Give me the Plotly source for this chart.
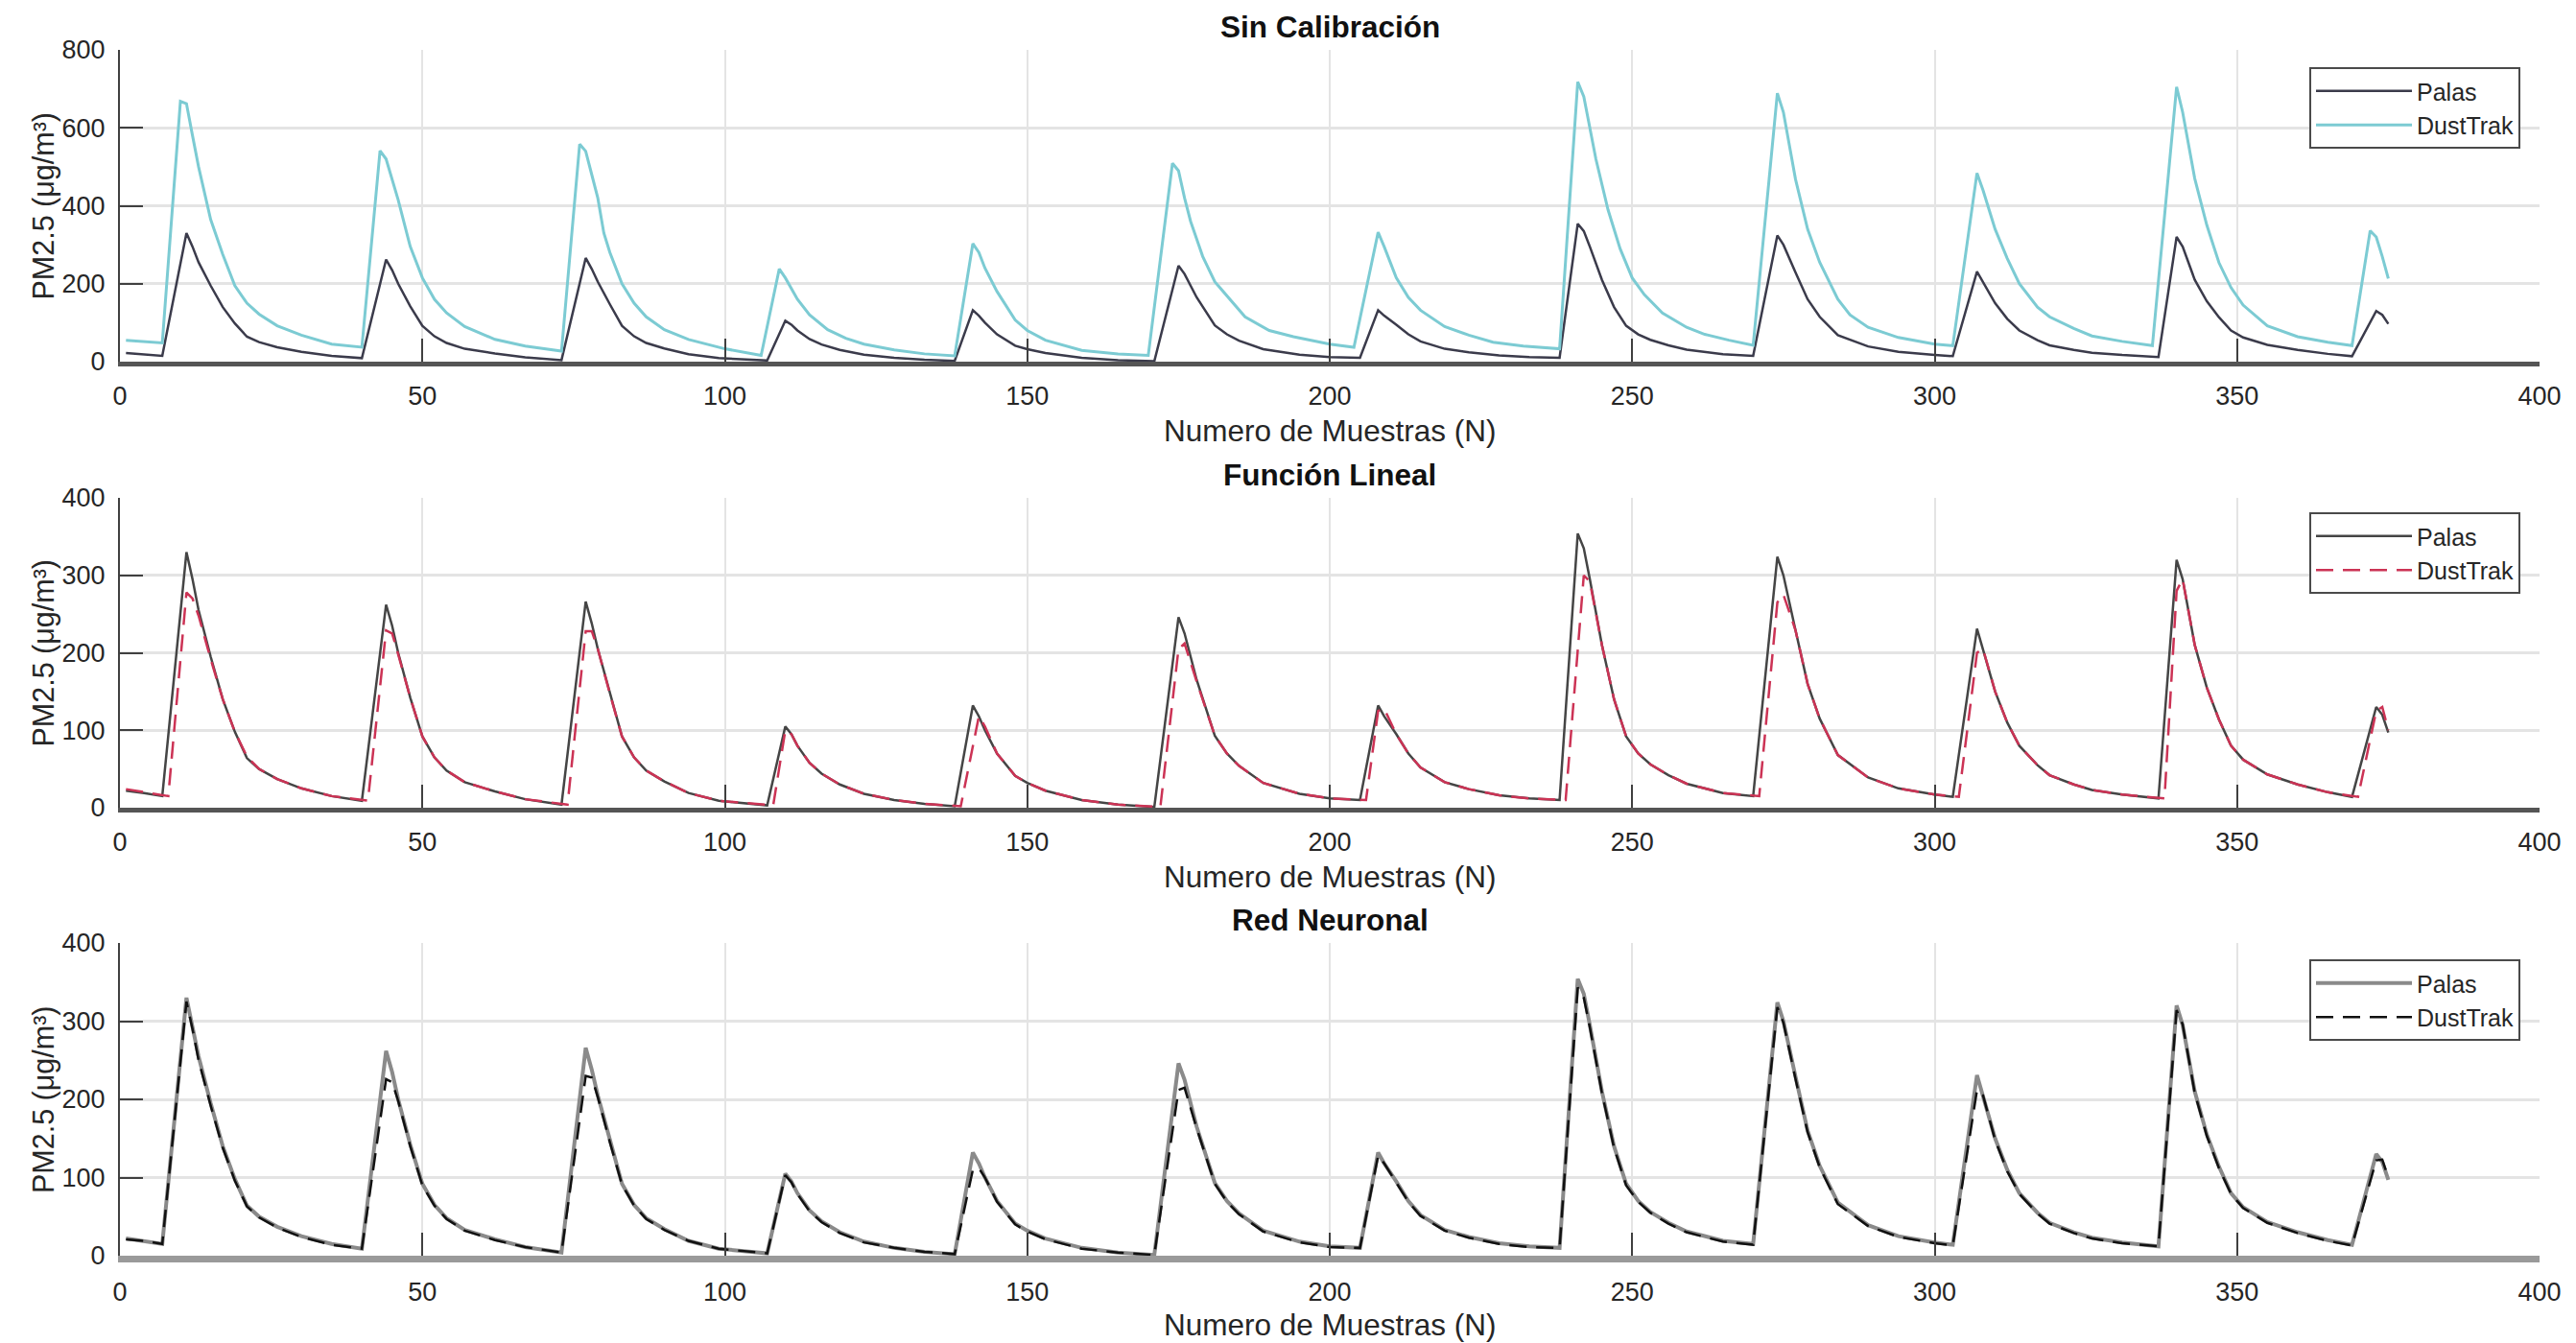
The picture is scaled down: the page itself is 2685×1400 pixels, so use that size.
import plotly.graph_objects as go

# ---------------- data (sample number, PM2.5 in ug/m3) ----------------
sample = [1, 4, 7, 11, 12, 13, 15, 17, 19, 21, 23, 26, 30, 35, 40,
          44, 45, 46, 48, 50, 52, 54, 57, 62, 67, 73,
          77, 78, 79, 81, 83, 85, 87, 90, 94, 99, 107,
          110, 111, 112, 114, 116, 119, 123, 128, 133, 138,
          141, 142, 143, 145, 148, 150, 153, 159, 165, 171,
          175, 176, 178, 181, 183, 185, 189, 195, 200, 205,
          208, 209, 211, 213, 215, 219, 223, 228, 233, 238,
          241, 242, 243, 245, 247, 249, 251, 253, 256, 259, 265, 270,
          274, 275, 277, 279, 281, 284, 289, 294, 300, 303,
          307, 308, 310, 312, 314, 317, 319, 323, 326, 331, 337,
          340, 341, 343, 345, 347, 349, 351, 355, 360, 365, 369,
          373, 374, 375]

palas = [22, 19, 15, 330, 295, 255, 195, 140, 98, 64, 50, 37, 25, 15, 9,
         262, 235, 200, 142, 92, 65, 48, 33, 21, 11, 4,
         266, 238, 205, 147, 92, 65, 48, 34, 19, 9, 3,
         105, 95, 80, 58, 44, 30, 18, 10, 5, 2,
         132, 118, 100, 70, 41, 32, 22, 10, 4, 1,
         246, 225, 165, 93, 70, 54, 32, 18, 12, 10,
         132, 118, 95, 70, 52, 33, 24, 16, 12, 10,
         354, 335, 295, 210, 140, 92, 70, 56, 42, 31, 19, 15,
         324, 300, 229, 160, 115, 68, 39, 25, 17, 14,
         231, 205, 150, 110, 80, 55, 42, 30, 23, 17, 12,
         320, 295, 210, 155, 114, 80, 62, 43, 30, 20, 14,
         130, 120, 97]

dust_nn = [21, 19, 15, 325, 290, 250, 192, 138, 96, 63, 49, 36, 24, 14, 9,
           226, 222, 198, 140, 90, 64, 47, 32, 20, 11, 4,
           230, 228, 203, 145, 91, 64, 47, 33, 19, 9, 3,
           103, 94, 79, 57, 43, 29, 17, 10, 5, 2,
           110, 112, 100, 69, 40, 31, 21, 9, 4, 1,
           212, 215, 163, 92, 69, 53, 31, 17, 11, 10,
           128, 118, 93, 69, 51, 32, 23, 15, 11, 10,
           343, 330, 292, 208, 138, 90, 69, 55, 41, 30, 18, 14,
           318, 298, 226, 158, 113, 66, 38, 24, 16, 13,
           212, 205, 148, 108, 79, 54, 41, 29, 22, 16, 12,
           314, 296, 208, 153, 112, 79, 61, 42, 29, 19, 13,
           122, 123, 100]

sample_raw = [1, 4, 7, 10, 11, 12, 13, 15, 17, 19, 21, 23, 26, 30, 35, 40,
              43, 44, 45, 46, 48, 50, 52, 54, 57, 62, 67, 73,
              76, 77, 78, 79, 80, 81, 83, 85, 87, 90, 94, 100, 106,
              109, 110, 112, 114, 117, 120, 123, 128, 133, 138,
              141, 142, 143, 145, 148, 150, 153, 159, 165, 170,
              174, 175, 176, 177, 179, 181, 184, 186, 190, 194, 200, 204,
              208, 209, 211, 213, 215, 219, 223, 227, 232, 238,
              241, 242, 244, 246, 248, 250, 252, 255, 259, 262, 266, 270,
              274, 275, 277, 279, 281, 284, 286, 289, 294, 300, 303,
              307, 308, 310, 312, 314, 317, 319, 323, 326, 331, 336,
              340, 341, 343, 345, 347, 349, 351, 355, 360, 365, 369,
              372, 373, 374, 375]

dust_raw = [55, 52, 48, 668, 662, 580, 500, 365, 275, 195, 150, 122, 92, 68, 45, 37,
            541, 520, 470, 415, 295, 215, 160, 125, 90, 57, 40, 27,
            558, 540, 480, 420, 330, 280, 200, 150, 115, 82, 57, 33, 16,
            238, 215, 160, 120, 82, 60, 45, 30, 20, 15,
            303, 280, 240, 180, 107, 80, 55, 29, 20, 16,
            509, 490, 420, 360, 270, 205, 150, 115, 80, 64, 45, 37,
            332, 295, 215, 165, 132, 90, 68, 50, 40, 33,
            718, 680, 520, 390, 290, 215, 172, 125, 88, 70, 55, 42,
            689, 640, 468, 340, 255, 160, 120, 88, 62, 45, 41,
            484, 440, 340, 265, 200, 140, 115, 85, 66, 52, 41,
            705, 640, 470, 350, 254, 190, 145, 92, 64, 50, 41,
            336, 320, 270, 213]

sample_lin = [1, 4, 8, 11, 12, 13, 15, 17, 19, 21, 23, 26, 30, 35, 41,
              44, 45, 46, 48, 50, 52, 54, 57, 62, 67, 74,
              77, 78, 79, 81, 83, 85, 87, 90, 94, 99, 108,
              110, 111, 112, 114, 116, 119, 123, 128, 133, 139,
              142, 143, 145, 148, 150, 153, 159, 165, 172,
              175, 176, 178, 181, 183, 185, 189, 195, 200, 206,
              208, 209, 211, 213, 215, 219, 223, 228, 233, 239,
              242, 243, 245, 247, 249, 251, 253, 256, 259, 265, 271,
              274, 275, 277, 279, 281, 284, 289, 294, 300, 304,
              307, 308, 310, 312, 314, 317, 319, 323, 326, 331, 338,
              340, 341, 343, 345, 347, 349, 351, 355, 360, 365, 370,
              373, 374, 375]

dust_lin = [24, 20, 15, 278, 270, 248, 192, 140, 98, 66, 50, 37, 25, 15, 9,
            229, 225, 198, 142, 92, 65, 48, 33, 21, 11, 4,
            228, 228, 205, 147, 92, 65, 48, 34, 19, 9, 3,
            100, 95, 80, 58, 44, 30, 18, 10, 5, 2,
            118, 105, 70, 41, 32, 22, 10, 4, 1,
            205, 212, 163, 93, 70, 54, 32, 18, 12, 10,
            125, 128, 95, 70, 52, 33, 24, 16, 12, 10,
            300, 292, 210, 140, 92, 70, 56, 42, 31, 19, 15,
            265, 275, 229, 160, 115, 68, 39, 25, 17, 14,
            200, 205, 150, 110, 80, 55, 42, 30, 23, 17, 12,
            280, 295, 210, 155, 114, 80, 62, 43, 30, 20, 14,
            125, 130, 100]

titles = ["Sin Calibración", "Función Lineal", "Red Neuronal"]
x_label = "Numero de Muestras (N)"
y_label = "PM2.5 (μg/m³)"
names = ["Palas", "DustTrak"]

# ---------------- layout geometry (pixels) ----------------
W, H = 2685, 1400
L, R, T, B = 125, 38, 52, 91
PW, PH = W - L - R, H - T - B


def py(p):
    return (H - B - p) / PH


def px(p):
    return (p - L) / PW


panels = [(52, 377), (519, 842), (983, 1309)]
FONT = "Liberation Sans, Arial, Helvetica, sans-serif"
TXT = "#262626"
GRID = "#e4e4e4"

fig = go.Figure()

series = [
    (sample, palas, dict(color="#3b3b4b", width=2.5), sample_raw, dust_raw, dict(color="#7ccbd3", width=3)),
    (sample, palas, dict(color="#454545", width=2.5), sample_lin, dust_lin, dict(color="#cc3355", width=2.5, dash="18px,10px")),
    (sample, palas, dict(color="#8a8a8a", width=4), sample, dust_nn, dict(color="#111111", width=2.5, dash="18px,10px")),
]

legend_tops = [70, 534, 1000]

for i, (xa, ya, la, xb, yb, lb) in enumerate(series):
    k = "" if i == 0 else str(i + 1)
    leg = "legend" + k
    fig.add_trace(go.Scatter(x=xa, y=ya, mode="lines", line=la, name=names[0],
                             xaxis="x" + k, yaxis="y" + k, legend=leg))
    fig.add_trace(go.Scatter(x=xb, y=yb, mode="lines", line=lb, name=names[1],
                             xaxis="x" + k, yaxis="y" + k, legend=leg))

layout = dict(
    width=W, height=H,
    margin=dict(l=L, r=R, t=T, b=B, pad=0),
    paper_bgcolor="white", plot_bgcolor="white",
    font=dict(family=FONT, color=TXT, size=27),
    showlegend=True,
)

annotations = []
for i, (top, bot) in enumerate(panels):
    k = "" if i == 0 else str(i + 1)
    ymax = 800 if i == 0 else 400
    dtick = 200 if i == 0 else 100
    bottom_line = dict(color="#555555", width=5) if i < 2 else dict(color="#9a9a9a", width=7)
    layout["xaxis" + k] = dict(
        domain=[0, 1], anchor="y" + k, range=[0, 400], dtick=50, tick0=0,
        showgrid=True, gridcolor=GRID, gridwidth=2, zeroline=False,
        showline=True, linecolor=bottom_line["color"], linewidth=bottom_line["width"],
        ticks="inside", ticklen=24, tickwidth=2, tickcolor="#404040",
        tickfont=dict(size=27, family=FONT, color=TXT), ticklabelstandoff=8,
    )
    layout["yaxis" + k] = dict(
        domain=[py(bot), py(top)], anchor="x" + k, range=[0, ymax], dtick=dtick, tick0=0,
        showgrid=True, gridcolor=GRID, gridwidth=3, zeroline=False,
        showline=True, linecolor="#404040", linewidth=2,
        ticks="inside", ticklen=24, tickwidth=2, tickcolor="#404040",
        tickfont=dict(size=27, family=FONT, color=TXT), ticklabelstandoff=8,
    )
    leg = "legend" + k
    layout[leg] = dict(
        x=px(2627), xanchor="right", y=py(legend_tops[i]), yanchor="top",
        bgcolor="white", bordercolor="#4a4a4a", borderwidth=2,
        font=dict(size=25, family=FONT, color=TXT), itemwidth=100,
        tracegroupgap=0, traceorder="normal",
    )
    # title
    annotations.append(dict(text="<b>" + titles[i] + "</b>", xref="paper", yref="paper",
                            x=0.5, y=py(top - 24), xanchor="center", yanchor="middle",
                            showarrow=False, font=dict(size=31.5, family=FONT, color="#111111")))
    # x label
    annotations.append(dict(text=x_label, xref="paper", yref="paper",
                            x=0.5, y=py(bot + 72), xanchor="center", yanchor="middle",
                            showarrow=False, font=dict(size=31.5, family=FONT, color=TXT)))
    # y label
    annotations.append(dict(text=y_label, xref="paper", yref="paper",
                            x=px(45), y=py((top + bot) / 2), xanchor="center", yanchor="middle",
                            textangle=-90, showarrow=False,
                            font=dict(size=30.5, family=FONT, color=TXT)))

layout["annotations"] = annotations
fig.update_layout(**layout)
fig.write_html("out.html")
